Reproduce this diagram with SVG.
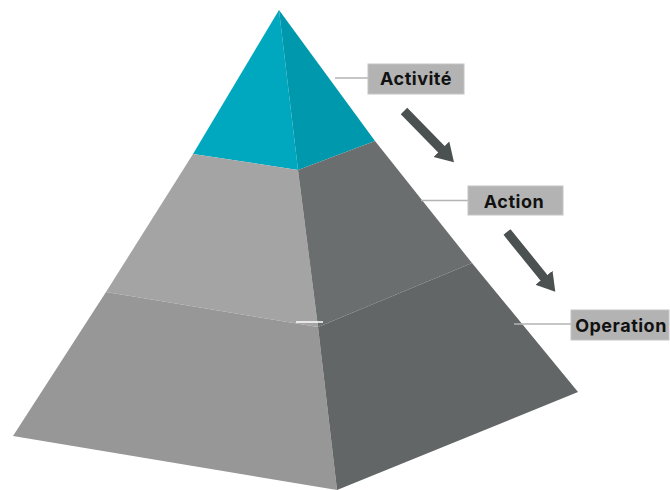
<svg xmlns="http://www.w3.org/2000/svg" width="670" height="490" viewBox="0 0 670 490">
  <style>
    .lbl { fill: #b3b3b3; stroke: #c4c4c4; stroke-width: 1; }
    .txt { font-family: Inter, "Liberation Sans", sans-serif; font-weight: bold; font-size: 18px; letter-spacing: 0.5px; fill: #111; text-anchor: middle; }
    .lead { stroke: #b3b3b3; stroke-width: 1.5; fill: none; }
    .arrow { stroke: #4b5051; stroke-width: 9; fill: none; }
  </style>
  <defs>
    <marker id="ah" markerUnits="userSpaceOnUse" markerWidth="26" markerHeight="26" refX="8" refY="13" orient="auto" viewBox="0 0 26 26">
      <path d="M0,2 L18,13 L0,24 Z" fill="#4b5051"/>
    </marker>
  </defs>
  <rect width="670" height="490" fill="#ffffff"/>
  <g id="pyramid">
    <polygon points="279,10 193,154 298,170" fill="#00a8bf"/>
    <polygon points="279,10 298,170 375,141" fill="#0098ad"/>
    <polygon points="193,154 106,292 318,327 298,170" fill="#a4a4a4"/>
    <polygon points="298,170 318,327 472,263 375,141" fill="#6b6e6e"/>
    <polygon points="106,292 13,436 337,490 318,327" fill="#979797"/>
    <polygon points="318,327 337,490 578,392 472,263" fill="#626666"/>
    <line x1="296" y1="322" x2="323" y2="322" stroke="#ffffff" stroke-width="1.5"/>
  </g>
  <g id="connectors">
    <line class="lead" x1="335" y1="78" x2="368" y2="78"/>
    <line class="lead" x1="421" y1="200.5" x2="468" y2="200.5"/>
    <line class="lead" x1="514" y1="324" x2="571" y2="324"/>
    <line class="arrow" x1="404" y1="111" x2="447" y2="155" marker-end="url(#ah)"/>
    <line class="arrow" x1="507" y1="232" x2="549" y2="284" marker-end="url(#ah)"/>
  </g>
  <g id="activite">
    <rect class="lbl" x="368" y="64" width="96" height="30"/>
    <text class="txt" x="416" y="85">Activité</text>
  </g>
  <g id="action">
    <rect class="lbl" x="468" y="186" width="95" height="29"/>
    <text class="txt" x="514" y="207.5">Action</text>
  </g>
  <g id="operation">
    <rect class="lbl" x="571" y="310" width="98" height="30"/>
    <text class="txt" x="621" y="331.5">Operation</text>
  </g>
</svg>
